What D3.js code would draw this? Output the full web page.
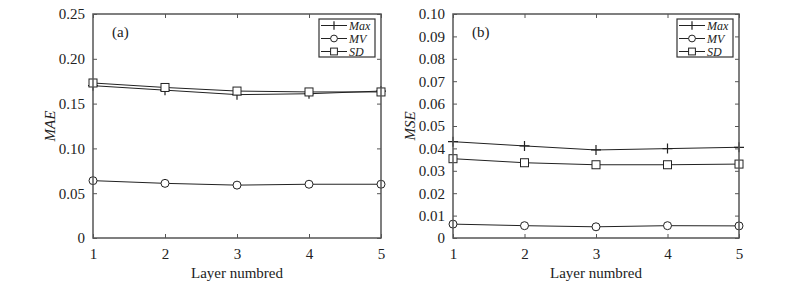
<!DOCTYPE html>
<html><head><meta charset="utf-8">
<script src="https://cdn.jsdelivr.net/npm/d3@7"></script>
<style>body{margin:0;background:#fff}svg{display:block}text{font-family:"Liberation Serif","Times New Roman",serif;fill:#222}</style>
</head><body>
<script>
const layers = [1, 2, 3, 4, 5];
const maeMax = [0.170, 0.165, 0.160, 0.161, 0.164];
const maeMV  = [0.064, 0.061, 0.059, 0.060, 0.060];
const maeSD  = [0.173, 0.168, 0.164, 0.163, 0.163];
const mseMax = [0.0430, 0.0411, 0.0393, 0.0399, 0.0405];
const mseMV  = [0.0062, 0.0055, 0.0050, 0.0055, 0.0054];
const mseSD  = [0.0354, 0.0336, 0.0327, 0.0327, 0.0330];
const maeTicks = [0, 0.05, 0.10, 0.15, 0.20, 0.25];
const mseTicks = [0, 0.01, 0.02, 0.03, 0.04, 0.05, 0.06, 0.07, 0.08, 0.09, 0.10];
const seriesNames = ["Max", "MV", "SD"];

const svg = d3.select("body").append("svg").attr("width", 807).attr("height", 296);
const axisColor = "#555";

function panel(opt) {
  const {left, right, top, bottom, yMax, ticks, fmt, title, tag, data} = opt;
  const x = d3.scaleLinear().domain([1, 5]).range([left, right]);
  const y = d3.scaleLinear().domain([0, yMax]).range([bottom, top]);
  const g = svg.append("g");
  // series lines
  const line = d3.line().x((d, i) => x(layers[i])).y(d => y(d));
  data.forEach((vals, si) => {
    g.append("path").attr("d", line(vals)).attr("fill", "none").attr("stroke", "#222").attr("stroke-width", 1);
    vals.forEach((v, i) => drawMarker(g, seriesNames[si], x(layers[i]), y(v)));
  });
  // box
  g.append("rect").attr("x", left).attr("y", top).attr("width", right - left).attr("height", bottom - top)
    .attr("fill", "none").attr("stroke", axisColor).attr("stroke-width", 1.5);
  // axes with inward ticks
  const ya = g.append("g").attr("transform", `translate(${left},0)`)
    .call(d3.axisLeft(y).tickValues(ticks).tickFormat(fmt).tickSizeInner(-4).tickSizeOuter(0).tickPadding(8));
  const xa = g.append("g").attr("transform", `translate(0,${bottom})`)
    .call(d3.axisBottom(x).tickValues(layers).tickFormat(d3.format("d")).tickSizeInner(-4).tickSizeOuter(0).tickPadding(10));
  [ya, xa].forEach(a => {
    a.select(".domain").remove();
    a.selectAll("line").attr("stroke", axisColor);
    a.selectAll("text").attr("font-size", 15).attr("fill", "#222").style("font-family", '"Liberation Serif",serif');
  });
  // right & top ticks
  const yr = g.append("g").attr("transform", `translate(${right},0)`)
    .call(d3.axisRight(y).tickValues(ticks).tickFormat("").tickSizeInner(-4).tickSizeOuter(0));
  const xt = g.append("g").attr("transform", `translate(0,${top})`)
    .call(d3.axisTop(x).tickValues(layers).tickFormat("").tickSizeInner(-4).tickSizeOuter(0));
  [yr, xt].forEach(a => { a.select(".domain").remove(); a.selectAll("line").attr("stroke", axisColor); });
  // labels
  g.append("text").attr("x", (left + right) / 2).attr("y", 278).attr("text-anchor", "middle").attr("font-size", 15).text("Layer numbred");
  g.append("text").attr("transform", `translate(${left - 38},${(top + bottom) / 2}) rotate(-90)`)
    .attr("text-anchor", "middle").attr("font-size", 15).attr("font-style", "italic").text(title);
  g.append("text").attr("x", left + 19).attr("y", 37).attr("font-size", 15).text(tag);
  // legend
  const lx = right - 62, ly = 19, lw = 56, lh = 38;
  g.append("rect").attr("x", lx).attr("y", ly).attr("width", lw).attr("height", lh)
    .attr("fill", "#fff").attr("stroke", "#333").attr("stroke-width", 1.2);
  seriesNames.forEach((n, i) => {
    const yy = ly + 6.5 + i * 13;
    g.append("line").attr("x1", lx + 2).attr("x2", lx + 28).attr("y1", yy).attr("y2", yy).attr("stroke", "#222");
    drawMarker(g, n, lx + 15, yy, true);
    g.append("text").attr("x", lx + 30).attr("y", yy + 4).attr("font-size", 12).attr("font-style", "italic").text(n);
  });
}

function drawMarker(g, name, cx, cy, small) {
  const s = small ? 0.85 : 1;
  if (name === "Max") {
    g.append("path").attr("d", `M${cx - 5 * s},${cy}H${cx + 5 * s}M${cx},${cy - 5 * s}V${cy + 5 * s}`)
      .attr("stroke", "#222").attr("stroke-width", 1.2);
  } else if (name === "MV") {
    g.append("circle").attr("cx", cx).attr("cy", cy).attr("r", 4 * s).attr("fill", "#fff").attr("stroke", "#222");
  } else {
    g.append("rect").attr("x", cx - 4 * s).attr("y", cy - 4 * s).attr("width", 8 * s).attr("height", 8 * s)
      .attr("fill", "#fff").attr("stroke", "#222");
  }
}

panel({left: 93, right: 381, top: 14, bottom: 238, yMax: 0.25, ticks: maeTicks,
  fmt: d => d === 0 ? "0" : d3.format(".2f")(d), title: "MAE", tag: "(a)", data: [maeMax, maeMV, maeSD]});
panel({left: 453, right: 739, top: 14, bottom: 238, yMax: 0.10, ticks: mseTicks,
  fmt: d => d === 0 ? "0" : d3.format(".2f")(d), title: "MSE", tag: "(b)", data: [mseMax, mseMV, mseSD]});
</script>
</body></html>
